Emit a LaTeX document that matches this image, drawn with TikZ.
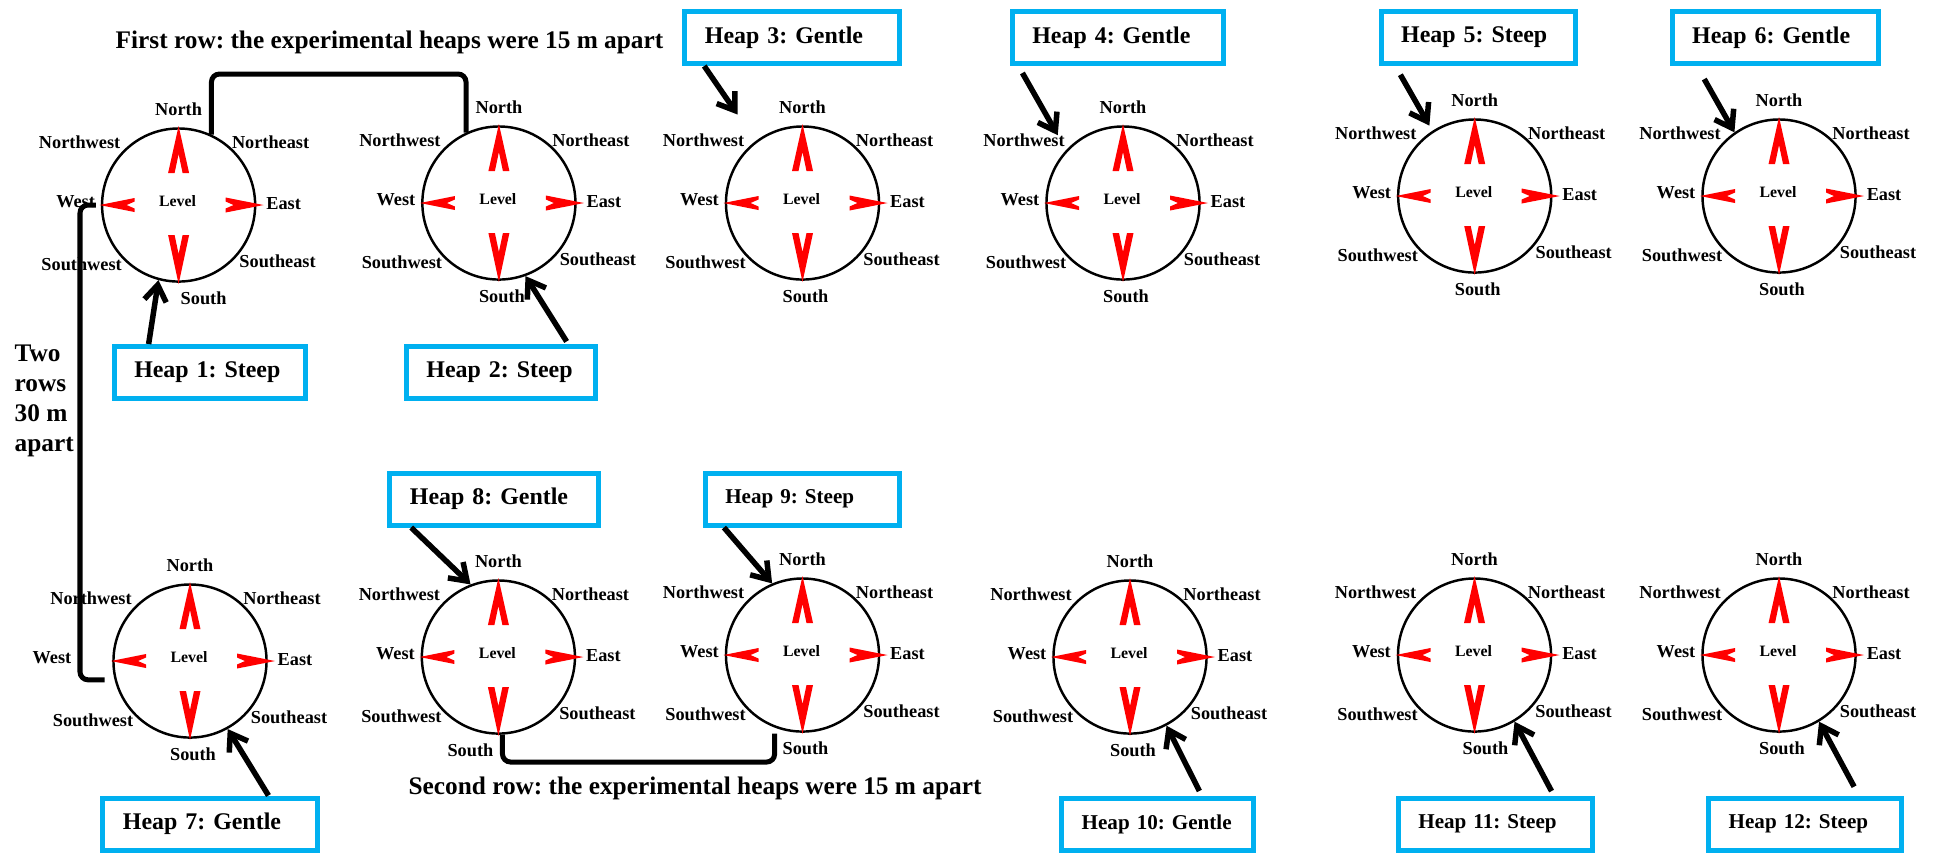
\documentclass[tikz,border=0pt]{standalone}
\usepackage{fontspec}
\setmainfont{Liberation Serif}
\usepackage{tikz}
\usetikzlibrary{arrows.meta}
\frenchspacing

\definecolor{boxblue}{RGB}{0,176,240}

\tikzset{
  dial/.style={circle, draw, line width=0.7pt, minimum size=1.53cm, inner sep=0pt},
  dirlbl/.style={font=\bfseries\fontsize{5.2}{6}\selectfont, inner sep=0pt},
  lvl/.style={font=\bfseries\fontsize{4.5}{5}\selectfont, inner sep=0pt},
  heapbox/.style={draw=boxblue, line width=0.05cm, inner xsep=0.2cm, inner ysep=0pt,
    minimum height=0.52cm, align=left, font=\bfseries\fontsize{6.8}{8}\selectfont},
  smallbox/.style={heapbox, font=\bfseries\fontsize{6}{7}\selectfont},
  pointer/.style={-{Straight Barb[length=0.16cm,width=0.22cm]}, line width=0.055cm},
  bracket/.style={line width=0.05cm, rounded corners=0.08cm},
  tipred/.style={fill=red},
  caption/.style={font=\bfseries\fontsize{7.2}{8.5}\selectfont, inner sep=0pt}
}

% one heap: name, x, y, west label dx, south label dx
\newcommand{\compass}[5]{%
  \node[dial] (#1) at (#2,#3) {};
  \fill[tipred, shift={(#2,#3)}] (0,-79) -- (10.5,-32) -- (4,-32) -- (0,-51) -- (-4,-32) -- (-10.5,-32) -- cycle;
  \fill[tipred, shift={(#2,#3)}] (0,79) -- (10.5,30) -- (4,30) -- (0,49) -- (-4,30) -- (-10.5,30) -- cycle;
  \fill[tipred, shift={(#2,#3)}] (-79,0) -- (-44,-7) -- (-44,-3.5) -- (-52,0) -- (-44,3.5) -- (-44,7) -- cycle;
  \fill[tipred, shift={(#2,#3)}] (85,0) -- (47,-7.5) -- (47,-3.5) -- (55,0) -- (47,3.5) -- (47,7.5) -- cycle;
  \node[lvl] (#1-lvl) at ([shift={(-1,-4)}]#1.center) {Level};
  \node[dirlbl] (#1-n) at ([shift={(0,-96)}]#1.center) {North};
  \node[dirlbl] (#1-nw) at ([shift={(-99,-63)}]#1.center) {Northwest};
  \node[dirlbl] (#1-ne) at ([shift={(92,-63)}]#1.center) {Northeast};
  \node[dirlbl] (#1-w) at ([shift={(#4,-3)}]#1.center) {West};
  \node[dirlbl] (#1-e) at ([shift={(105,-1)}]#1.center) {East};
  \node[dirlbl] (#1-sw) at ([shift={(-97,59)}]#1.center) {Southwest};
  \node[dirlbl] (#1-se) at ([shift={(99,56)}]#1.center) {Southeast};
  \node[dirlbl] (#1-s) at ([shift={(#5,93)}]#1.center) {South};
}

\begin{document}
\begin{tikzpicture}[x=0.01cm, y=-0.01cm]
  \useasboundingbox (0,0) rectangle (1940,853);

  %------------------
  % heaps
  %------------------
  \compass{h1}{178.6}{205}{-103}{25}
  \compass{h2}{498.9}{203}{-103}{3}
  \compass{h3}{802.5}{203}{-103}{3}
  \compass{h4}{1123}{203}{-103}{3}
  \compass{h5}{1474.7}{196}{-103}{3}
  \compass{h6}{1779}{196}{-103}{3}
  \compass{h7}{190}{661}{-138}{3}
  \compass{h8}{498.4}{657}{-103}{-28}
  \compass{h9}{802.5}{655}{-103}{3}
  \compass{h10}{1130}{657}{-103}{3}
  \compass{h11}{1474.5}{655}{-103}{11}
  \compass{h12}{1779}{655}{-103}{3}

  %------------------
  % slope boxes
  %------------------
  \node[heapbox, text width=1.51cm] (b1) at (209.8,372.5) {Heap 1: Steep};
  \node[heapbox, text width=1.49cm] (b2) at (501,372.5) {Heap 2: Steep};
  \node[heapbox, text width=1.74cm] (b3) at (792,37.5) {Heap 3: Gentle};
  \node[heapbox, text width=1.71cm] (b4) at (1117.9,37.5) {Heap 4: Gentle};
  \node[heapbox, text width=1.54cm] (b5) at (1478.2,37.5) {Heap 5: Steep};
  \node[heapbox, text width=1.66cm] (b6) at (1775.2,37.5) {Heap 6: Gentle};
  \node[heapbox, text width=1.74cm] (b7) at (210,824) {Heap 7: Gentle};
  \node[heapbox, text width=1.68cm] (b8) at (494,499) {Heap 8: Gentle};
  \node[smallbox, text width=1.54cm] (b9) at (802.3,499) {Heap 9: Steep};
  \node[smallbox, text width=1.52cm] (b10) at (1157.7,824) {Heap 10: Gentle};
  \node[smallbox, text width=1.54cm] (b11) at (1495.4,824) {Heap 11: Steep};
  \node[smallbox, text width=1.53cm] (b12) at (1805.2,824) {Heap 12: Steep};

  % pointers
  \draw[pointer] (b1.155) -- (h1.255);
  \draw[pointer, shorten <=0.03cm] (b2.23) -- (h2.290);
  \draw[pointer, shorten >=0.32cm] (b3.198) -- (h3.127);
  \draw[pointer, shorten <=0.08cm, shorten >=0.17cm] (b4.196) -- (h4.137);
  \draw[pointer, shorten <=0.1cm, shorten >=0.06cm] (b5.199) -- (h5.123);
  \draw[pointer, shorten <=0.15cm] (b6.200) -- (h6.125);
  \draw[pointer] (b7.26) -- (h7.299);
  \draw[pointer] (b8.199) -- (h8.111);
  \draw[pointer] (b9.200) -- (h9.113);
  \draw[pointer, shorten <=0.05cm] (b10.33) -- (h10.298);
  \draw[pointer, shorten <=0.05cm] (b11.26) -- (h11.301);
  \draw[pointer, shorten <=0.1cm] (b12.28) -- (h12.301);

  %------------------
  % spacing brackets
  %------------------
  \coordinate (toplink) at (340,74);
  \draw[bracket] (h1.65) |- (toplink) -| (h2.115);
  \coordinate (botlink) at (640,762);
  \draw[bracket, shorten >=0.06cm] (h8.273) |- (botlink) -| (h9.249);
  \coordinate (sidelink) at (80,440);
  \draw[bracket, shorten <=0.05cm, shorten >=0.1cm] (h1.west) -| (sidelink) |- (h7.194);

  % captions
  \node[caption] (row1) at (389.5,42) {First row: the experimental heaps were 15 m apart};
  \node[caption] (row2) at (695,788) {Second row: the experimental heaps were 15 m apart};
  \node[caption, anchor=west, align=left] (rowgap) at (14,401) {Two\\rows\\30 m\\apart};
\end{tikzpicture}
\end{document}
